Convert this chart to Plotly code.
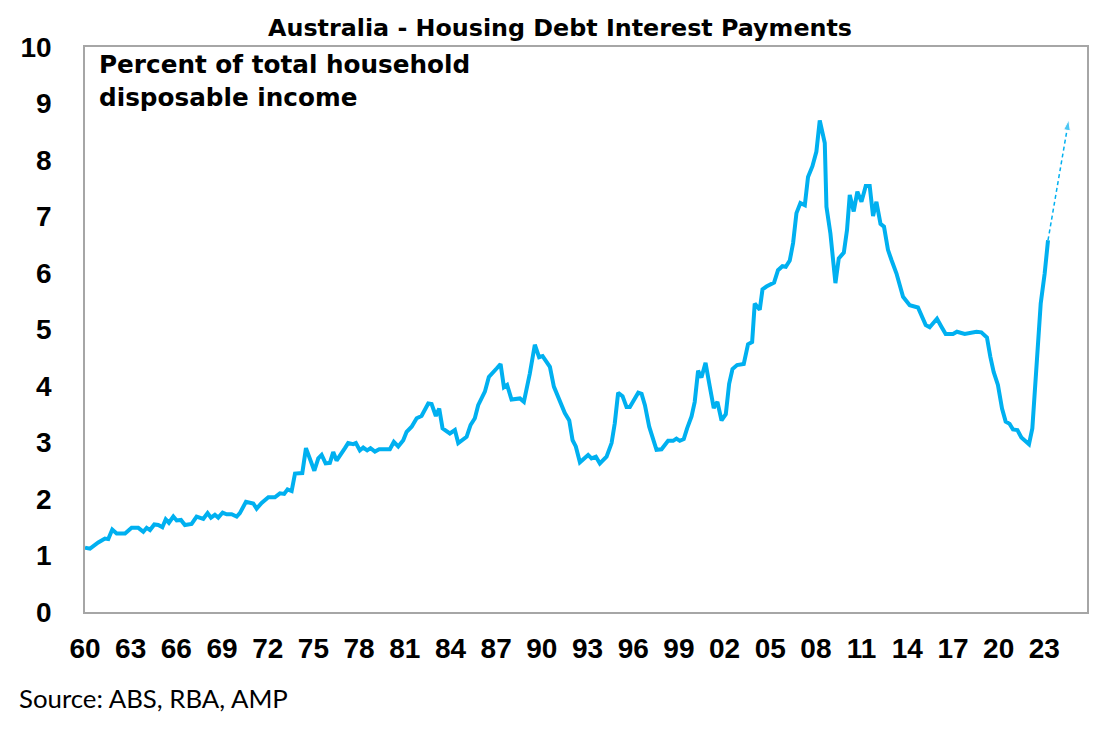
import plotly.graph_objects as go

# ---- Data ----
years = [
    1960.00, 1960.33, 1960.87, 1961.31, 1961.53, 1961.79, 1962.08, 1962.63, 1963.06, 1963.50,
    1963.83, 1964.05, 1964.27, 1964.55, 1964.81, 1965.08, 1965.30, 1965.51, 1965.80, 1966.02,
    1966.30, 1966.56, 1967.00, 1967.33, 1967.77, 1968.05, 1968.27, 1968.53, 1968.75, 1969.04,
    1969.30, 1969.63, 1969.96, 1970.17, 1970.57, 1971.05, 1971.27, 1971.60, 1972.04, 1972.47,
    1972.80, 1973.08, 1973.30, 1973.57, 1973.79, 1974.27, 1974.51, 1975.06, 1975.32, 1975.54,
    1975.80, 1976.08, 1976.30, 1976.52, 1977.07, 1977.28, 1977.61, 1977.79, 1978.05, 1978.27,
    1978.53, 1978.75, 1979.04, 1979.32, 1980.02, 1980.28, 1980.57, 1980.90, 1981.12, 1981.45,
    1981.78, 1982.10, 1982.54, 1982.76, 1983.04, 1983.26, 1983.48, 1983.96, 1984.29, 1984.51,
    1985.06, 1985.32, 1985.60, 1985.82, 1986.26, 1986.52, 1987.03, 1987.29, 1987.51, 1987.72,
    1988.01, 1988.56, 1988.82, 1989.21, 1989.54, 1989.82, 1990.05, 1990.53, 1990.79, 1991.18,
    1991.51, 1991.80, 1992.02, 1992.23, 1992.50, 1993.04, 1993.26, 1993.55, 1993.81, 1994.25,
    1994.58, 1994.79, 1995.01, 1995.30, 1995.56, 1995.78, 1996.33, 1996.55, 1996.77, 1997.05,
    1997.27, 1997.53, 1997.86, 1998.29, 1998.62, 1998.84, 1999.06, 1999.32, 1999.54, 1999.83,
    2000.04, 2000.26, 2000.48, 2000.75, 2001.03, 2001.29, 2001.53, 2001.80, 2002.08, 2002.30,
    2002.52, 2002.82, 2003.26, 2003.54, 2003.81, 2003.98, 2004.31, 2004.49, 2004.75, 2005.25,
    2005.51, 2005.80, 2006.02, 2006.28, 2006.50, 2006.72, 2006.98, 2007.27, 2007.48, 2007.77,
    2008.03, 2008.25, 2008.58, 2008.69, 2008.95, 2009.28, 2009.50, 2009.83, 2010.04, 2010.22,
    2010.48, 2010.72, 2010.99, 2011.27, 2011.53, 2011.75, 2011.97, 2012.24, 2012.47, 2012.73,
    2012.96, 2013.29, 2013.72, 2014.16, 2014.70, 2014.93, 2015.21, 2015.47, 2015.95, 2016.24,
    2016.52, 2017.00, 2017.26, 2017.77, 2018.54, 2018.86, 2019.23, 2019.45, 2019.67, 2019.95,
    2020.22, 2020.46, 2020.72, 2020.94, 2021.23, 2021.49, 2021.99, 2022.21, 2022.36, 2022.58,
    2022.76, 2023.02, 2023.24,
]
interest_pct = [
    1.14, 1.12, 1.23, 1.30, 1.29, 1.46, 1.39, 1.39, 1.49, 1.49,
    1.42, 1.49, 1.45, 1.55, 1.54, 1.50, 1.64, 1.58, 1.69, 1.62,
    1.63, 1.54, 1.56, 1.69, 1.65, 1.75, 1.67, 1.72, 1.67, 1.76,
    1.73, 1.73, 1.69, 1.75, 1.95, 1.92, 1.83, 1.93, 2.03, 2.03,
    2.10, 2.09, 2.17, 2.14, 2.45, 2.46, 2.90, 2.50, 2.72, 2.78,
    2.63, 2.64, 2.83, 2.68, 2.90, 2.99, 2.97, 2.99, 2.86, 2.91,
    2.86, 2.90, 2.84, 2.88, 2.88, 3.01, 2.93, 3.04, 3.19, 3.28,
    3.43, 3.47, 3.69, 3.68, 3.47, 3.60, 3.25, 3.16, 3.22, 2.99,
    3.10, 3.31, 3.43, 3.66, 3.90, 4.16, 4.31, 4.39, 3.98, 4.02,
    3.76, 3.78, 3.72, 4.22, 4.73, 4.51, 4.53, 4.34, 3.99, 3.72,
    3.52, 3.39, 3.04, 2.93, 2.65, 2.78, 2.72, 2.75, 2.63, 2.75,
    2.99, 3.34, 3.88, 3.82, 3.63, 3.63, 3.88, 3.86, 3.66, 3.28,
    3.10, 2.87, 2.88, 3.03, 3.03, 3.07, 3.03, 3.06, 3.25, 3.46,
    3.72, 4.27, 4.15, 4.41, 3.99, 3.61, 3.72, 3.39, 3.50, 4.04,
    4.30, 4.37, 4.39, 4.74, 4.78, 5.46, 5.35, 5.71, 5.76, 5.83,
    6.05, 6.12, 6.11, 6.22, 6.53, 7.06, 7.24, 7.20, 7.70, 7.89,
    8.15, 8.70, 8.30, 7.17, 6.70, 5.82, 6.26, 6.36, 6.76, 7.38,
    7.09, 7.44, 7.26, 7.54, 7.54, 7.01, 7.26, 6.87, 6.82, 6.41,
    6.23, 5.99, 5.58, 5.43, 5.39, 5.26, 5.08, 5.04, 5.19, 5.05,
    4.92, 4.92, 4.96, 4.92, 4.96, 4.95, 4.86, 4.52, 4.25, 4.02,
    3.60, 3.37, 3.33, 3.23, 3.22, 3.09, 2.97, 3.25, 3.87, 4.87,
    5.46, 5.99, 6.58,
]

# projected path (dashed arrow)
projection_years = [2023.24, 2024.60]
projection_values = [6.58, 8.71]

tick_years = list(range(1960, 2024, 3))
tick_labels = [str(y)[2:] for y in tick_years]

title_text = "Australia - Housing Debt Interest Payments"
note_lines = ["Percent of total household", "disposable income"]
source_text = "Source: ABS, RBA, AMP"

LINE_COLOR = "#00B0F0"
AXIS_COLOR = "#A6A6A6"
FONT_TICK = "Liberation Sans, Arial, sans-serif"
FONT_WIDE = "DejaVu Sans, Liberation Sans, sans-serif"

fig = go.Figure()

fig.add_trace(go.Scatter(
    x=years, y=interest_pct, mode="lines",
    line=dict(color=LINE_COLOR, width=4),
    hoverinfo="x+y", showlegend=False,
))

fig.add_trace(go.Scatter(
    x=projection_years, y=projection_values, mode="lines+markers",
    line=dict(color=LINE_COLOR, width=1.5, dash="4px,3px"),
    marker=dict(symbol="arrow", size=[0, 11], angleref="previous", color=LINE_COLOR),
    hoverinfo="skip", showlegend=False,
))

annotations = [
    dict(text=note_lines[0], xref="paper", yref="paper",
         x=0.012, y=0.969, xanchor="left", yanchor="middle", showarrow=False,
         font=dict(family=FONT_WIDE, size=24.7, color="black", weight="bold")),
    dict(text=note_lines[1], xref="paper", yref="paper",
         x=0.012, y=0.9115, xanchor="left", yanchor="middle", showarrow=False,
         font=dict(family=FONT_WIDE, size=24.7, color="black", weight="bold")),
    dict(text=source_text, xref="paper", yref="paper",
         x=-0.0679, y=-0.1522, xanchor="left", yanchor="middle", showarrow=False,
         font=dict(family="Lato, Carlito, sans-serif", size=25.8, color="black")),
]

# the page body adds an 8px offset, so the figure is 8px smaller than the window
fig.update_layout(
    width=1103, height=722,
    margin=dict(l=77, r=24, t=39, b=118),
    paper_bgcolor="white", plot_bgcolor="white",
    title=dict(text=title_text, x=0.5005, xanchor="center",
               y=0.9723, yref="container", yanchor="middle",
               font=dict(family=FONT_WIDE, size=23.8, color="black", weight="bold")),
    annotations=annotations,
    xaxis=dict(
        range=[1960, 2025.8], tickmode="array", tickvals=tick_years, ticktext=tick_labels,
        showgrid=False, zeroline=False, showline=True, linecolor=AXIS_COLOR, linewidth=1.5,
        mirror=True, ticks="", ticklabelstandoff=11,
        tickfont=dict(family=FONT_TICK, size=28, color="black", weight="bold"),
    ),
    yaxis=dict(
        range=[0, 10], dtick=1, tick0=0,
        showgrid=False, zeroline=False, showline=True, linecolor=AXIS_COLOR, linewidth=1.5,
        mirror=True, ticks="", ticklabelstandoff=26,
        tickfont=dict(family=FONT_TICK, size=28, color="black", weight="bold"),
    ),
)

fig.write_html("out.html")
